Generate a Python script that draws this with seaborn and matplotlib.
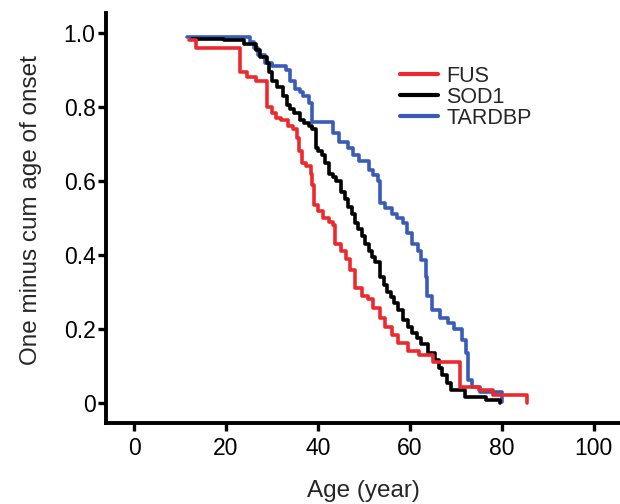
import numpy as np
import pandas as pd
import matplotlib
matplotlib.use("Agg")
import matplotlib.pyplot as plt
import seaborn as sns
from matplotlib.lines import Line2D

# ---- data ----
fus_age = [12, 13.5, 23, 24.5, 26.5, 29, 30, 30.8, 32, 33.5, 34.5, 35.5, 35.8, 36.5, 37.5,
           38.5, 38.8, 39.2, 40, 41, 42.5, 43.3, 43.7, 45, 46, 47, 48, 49.5, 50.8, 52,
           53.5, 54.5, 56, 57.5, 59.5, 62, 65, 71, 75, 78, 85.5]
fus_val = [0.98, 0.96, 0.895, 0.88, 0.87, 0.80, 0.785, 0.77, 0.765, 0.75, 0.74, 0.715, 0.68, 0.65, 0.64,
           0.62, 0.59, 0.535, 0.52, 0.50, 0.49, 0.48, 0.43, 0.41, 0.39, 0.36, 0.31, 0.29, 0.28, 0.257,
           0.23, 0.205, 0.184, 0.162, 0.14, 0.13, 0.11, 0.043, 0.035, 0.02, 0.0]

sod1_age = [12.5, 19.5, 24, 26.5, 27.5, 29, 29.3, 30, 31, 32.5, 33.2, 34, 34.8, 36, 37, 38, 38.7,
            39.5, 40, 40.8, 41.5, 42.5, 43.2, 44, 45, 45.8, 46.5, 47.3, 48, 48.8, 49.5, 50.3,
            51, 51.8, 52.5, 53.5, 54.3, 55, 55.8, 56.5, 57.5, 58.5, 59.5, 60.5, 61.5, 62.5,
            64, 65.5, 66.3, 67, 68, 69, 72, 76.5, 79.5]
sod1_val = [0.985, 0.98, 0.97, 0.955, 0.935, 0.92, 0.895, 0.87, 0.855, 0.83, 0.805, 0.795, 0.785, 0.765,
            0.757, 0.75, 0.74, 0.69, 0.68, 0.67, 0.65, 0.62, 0.61, 0.60, 0.57, 0.55, 0.53, 0.51, 0.486,
            0.47, 0.45, 0.43, 0.41, 0.395, 0.38, 0.34, 0.32, 0.30, 0.285, 0.27, 0.25, 0.225, 0.205,
            0.19, 0.175, 0.16, 0.135, 0.116, 0.095, 0.076, 0.055, 0.035, 0.016, 0.008, 0.0]

tardbp_age = [11.5, 25.2, 26, 27, 28.5, 30, 33, 34, 35, 36, 36.7, 38, 38.8, 43.2, 44.5,
              46.5, 47.7, 49, 51, 52, 53, 53.5, 54.5, 56, 57.2, 58.5, 59.3, 60.5, 61.7,
              62.5, 63.5, 63.8, 64.8, 66.5, 68.3, 69.5, 71.3, 72.3, 72.6, 73.5, 75.2, 80]
tardbp_val = [0.99, 0.976, 0.96, 0.94, 0.92, 0.91, 0.90, 0.87, 0.85, 0.84, 0.83, 0.81, 0.76, 0.73, 0.705,
              0.69, 0.67, 0.655, 0.63, 0.615, 0.60, 0.54, 0.527, 0.51, 0.50, 0.486, 0.46, 0.43, 0.41,
              0.386, 0.34, 0.29, 0.25, 0.23, 0.216, 0.20, 0.17, 0.135, 0.062, 0.043, 0.03, 0.003]

groups = ["FUS", "SOD1", "TARDBP"]
colors = {"FUS": "#ec2a2e", "SOD1": "#000000", "TARDBP": "#3a5cb8"}

x_ticks = [0, 20, 40, 60, 80, 100]
y_ticks = [0, 0.2, 0.4, 0.6, 0.8, 1.0]
y_ticklabels = ["0", "0.2", "0.4", "0.6", "0.8", "1.0"]

df = pd.concat([
    pd.DataFrame({"age": fus_age, "surv": fus_val, "gene": "FUS"}),
    pd.DataFrame({"age": sod1_age, "surv": sod1_val, "gene": "SOD1"}),
    pd.DataFrame({"age": tardbp_age, "surv": tardbp_val, "gene": "TARDBP"}),
], ignore_index=True)

sns.set_style("ticks")
plt.rcParams["font.family"] = ["Liberation Sans", "DejaVu Sans"]

fig = plt.figure(figsize=(6.2, 5.04), dpi=100)
ax = fig.add_axes([0.171, 0.161, 0.829, 0.813])

for g in ["TARDBP", "SOD1", "FUS"]:
    sub = df[df.gene == g]
    sns.lineplot(data=sub, x="age", y="surv", ax=ax, color=colors[g], estimator=None,
                 sort=True, drawstyle="steps-post", linewidth=2.6, legend=False)

ax.set_xlim(-6.1, 105.7)
ax.set_ylim(-0.054, 1.054)
ax.set_xticks(x_ticks)
ax.set_yticks(y_ticks)
ax.set_yticklabels(y_ticklabels)

for s in ["top", "right"]:
    ax.spines[s].set_visible(False)
for s in ["left", "bottom"]:
    ax.spines[s].set_linewidth(2.8)
    ax.spines[s].set_color("black")

ax.tick_params(axis="both", direction="out", length=6, width=2.4, labelsize=16.5,
               colors="black")
ax.tick_params(axis="y", pad=1.5)
ax.tick_params(axis="x", pad=4)
ax.set_xlabel("Age (year)", fontsize=17.5, labelpad=14.5)
ax.set_ylabel("One minus cum age of onset", fontsize=17.5)
ax.yaxis.set_label_coords(-0.125, 0.52)

handles = [Line2D([0], [0], color=colors[g], lw=3) for g in groups]
ax.legend(handles, groups, loc="upper left", bbox_to_anchor=(0.572, 0.872),
          frameon=False, fontsize=15.5, handlelength=1.75, handletextpad=0.4,
          labelspacing=0.0, borderpad=0, borderaxespad=0)

fig.savefig("out.png", dpi=100)
